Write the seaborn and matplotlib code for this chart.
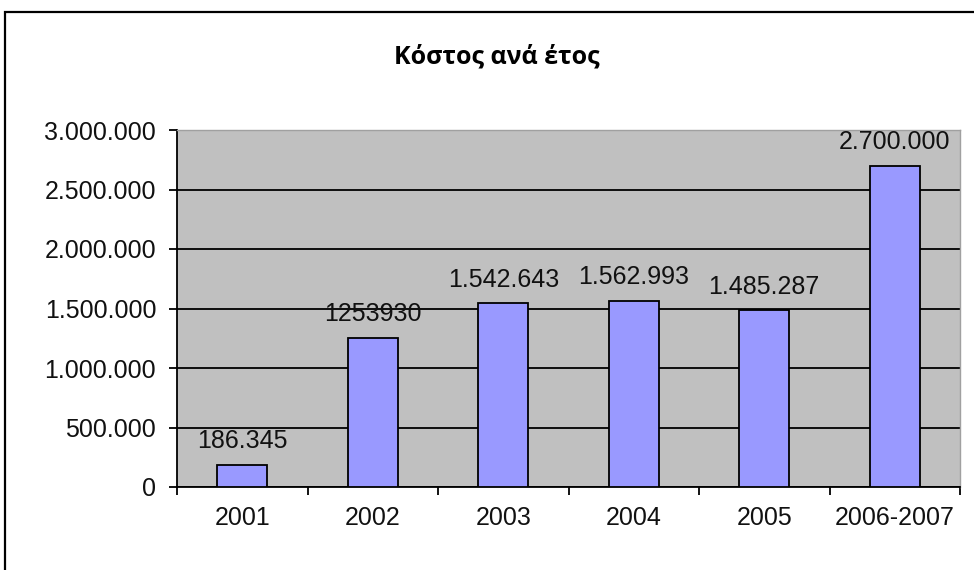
import matplotlib
matplotlib.use('Agg')
import matplotlib.pyplot as plt
import matplotlib.patches as patches
from matplotlib.ticker import FuncFormatter, FixedLocator
import seaborn as sns
import pandas as pd

# data
etos = ['2001', '2002', '2003', '2004', '2005', '2006-2007']
kostos = [186345, 1253930, 1542643, 1562993, 1485287, 2700000]
etiketes = ['186.345', '1253930', '1.542.643', '1.562.993', '1.485.287', '2.700.000']

plt.rcParams['font.family'] = ['Liberation Sans', 'DejaVu Sans']

df = pd.DataFrame({'etos': etos, 'kostos': kostos})

fig = plt.figure(figsize=(9.74, 5.70), dpi=100)
ax = fig.add_axes([177 / 974, 1 - 487 / 570, (960 - 177) / 974, (487 - 130) / 570])
ax.set_facecolor('#C0C0C0')

# plaisio gyro apo to grafima
fig.patches.append(patches.Rectangle((5 / 974, -0.1), 1.2, 1 - 12 / 570 + 0.1,
                                     transform=fig.transFigure, fill=False,
                                     edgecolor='black', linewidth=1.6, zorder=0))

sns.barplot(data=df, x='etos', y='kostos', color='#9999FF', width=0.38,
            edgecolor='black', linewidth=1.3, saturation=1, ax=ax, zorder=3)

ax.set_ylim(0, 3000000)
ax.set_xlim(-0.5, 5.5)
ax.set_yticks(range(0, 3000001, 500000))
ax.yaxis.set_major_formatter(FuncFormatter(lambda v, p: f"{int(v):,}".replace(',', '.')))
ax.grid(axis='y', color='black', linewidth=1.3, zorder=1)
ax.set_axisbelow(True)

# ticks sta oria ton kategorion, etiketes sto kentro
ax.xaxis.set_major_locator(FixedLocator([i - 0.5 for i in range(len(etos) + 1)]))
ax.xaxis.set_major_formatter(FuncFormatter(lambda v, p: ''))
ax.xaxis.set_minor_locator(FixedLocator(range(len(etos))))
ax.set_xticklabels(etos, minor=True)
ax.tick_params(axis='x', which='major', length=6, width=1.3, direction='out', color='black')
ax.tick_params(axis='x', which='minor', length=0, pad=14, labelsize=18, labelcolor='#111111')
ax.tick_params(axis='y', length=6, width=1.3, direction='out', pad=9, labelsize=18,
               color='black', labelcolor='#111111')

ax.set_xlabel('')
ax.set_ylabel('')

for s in ['left', 'bottom']:
    ax.spines[s].set_color('black')
    ax.spines[s].set_linewidth(1.3)
for s in ['top', 'right']:
    ax.spines[s].set_color('#A0A0A0')
    ax.spines[s].set_linewidth(1.0)

for i, (v, t) in enumerate(zip(kostos, etiketes)):
    ax.annotate(t, (i, v), xytext=(0, 12), textcoords='offset points',
                ha='center', va='baseline', fontsize=18, color='#111111',
                zorder=5, annotation_clip=False)

fig.text(497 / 974, 1 - 63 / 570, 'Κόστος ανά έτος', ha='center', va='baseline',
         fontsize=18, fontweight='bold', family=['Open Sans', 'DejaVu Sans'])

fig.savefig('out.png', dpi=100, facecolor='white')
